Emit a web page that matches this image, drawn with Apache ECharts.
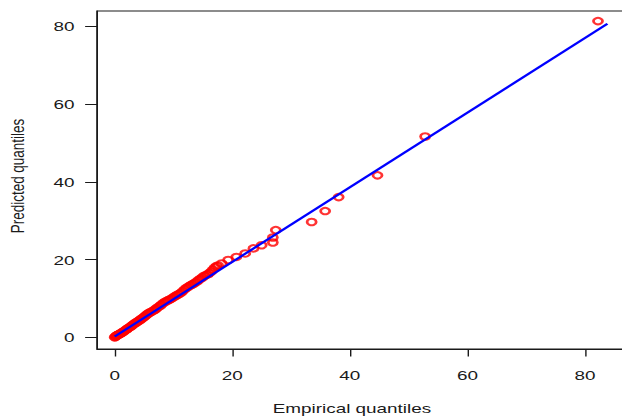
<!DOCTYPE html>
<html><head><meta charset="utf-8">
<script src="https://cdn.jsdelivr.net/npm/echarts@6/dist/echarts.min.js"></script>
<style>
html,body{margin:0;padding:0;width:622px;height:416px;overflow:hidden;background:#fff}
#wrap{width:622px;height:416px;overflow:hidden;position:relative}
#chart{width:460px;height:416px;transform:scaleX(1.4);transform-origin:0 0}
</style></head><body><div id="wrap"><div id="chart"></div></div>
<script>
// Empirical quantiles (x) and predicted quantiles (y)
const empirical = [0.0,0.1,0.2,0.3,0.4,0.5,0.6,0.8,0.9,1.0,1.2,1.3,1.5,1.6,1.8,2.0,2.1,2.3,2.5,2.7,2.9,3.0,3.2,3.4,3.6,3.8,4.0,4.2,4.4,4.6,4.8,5.0,5.2,5.4,5.6,5.8,6.0,6.2,6.5,6.8,7.0,7.2,7.5,7.8,8.0,8.3,8.6,8.9,9.2,9.5,9.8,10.1,10.4,10.7,11.0,11.3,11.6,11.9,12.2,12.5,12.8,13.1,13.4,13.7,14.0,14.3,14.6,14.9,15.2,15.5,15.8,16.1,16.4,16.7,17.0,17.3,17.6,
  18.2,19.3,20.7,22.2,23.6,25.0,26.9,26.9,27.4,33.5,35.8,38.1,44.7,52.8,82.2];
const predicted = [0.0,0.1,0.25,0.4,0.5,0.6,0.7,0.8,0.9,1.0,1.15,1.3,1.45,1.6,1.8,2.0,2.15,2.35,2.55,2.75,2.95,3.1,3.35,3.55,3.75,3.95,4.15,4.35,4.6,4.8,5.0,5.25,5.5,5.75,6.0,6.2,6.4,6.55,6.8,7.05,7.3,7.55,7.9,8.2,8.5,8.85,9.15,9.4,9.6,9.85,10.1,10.4,10.7,10.95,11.2,11.5,11.9,12.35,12.7,13.0,13.3,13.55,13.8,14.1,14.4,14.75,15.1,15.4,15.8,16.0,16.2,16.5,16.9,17.4,17.9,18.3,18.5,
  19.0,19.9,20.7,21.6,22.9,23.7,24.4,25.7,27.6,29.7,32.5,36.1,41.7,51.7,81.4];
// Reference line endpoints
const lineX = [0, 83.8];
const lineY = [0.2, 80.7];
const xTicks = [0, 20, 40, 60, 80];
const yTicks = [0, 20, 40, 60, 80];
const xTitle = 'Empirical quantiles';
const yTitle = 'Predicted quantiles';

const pts = empirical.map((x, i) => [x, predicted[i]]);
const linePts = lineX.map((x, i) => [x, lineY[i]]);
const font = 'Liberation Sans, Arial, Helvetica, sans-serif';
const axisCol = '#1a1a1a';

const chart = echarts.init(document.getElementById('chart'), null, {renderer: 'svg'});
chart.setOption({
  animation: false,
  backgroundColor: '#fff',
  grid: {left: 69.3, top: 11, width: 382.2, height: 338, show: true, borderColor: axisCol, borderWidth: 1, backgroundColor: 'transparent'},
  xAxis: {
    type: 'value', min: -3, max: 88,
    axisLine: {show: true, onZero: false, lineStyle: {color: axisCol, width: 1}},
    axisTick: {show: true, length: 7.5, customValues: xTicks, lineStyle: {color: axisCol, width: 1}},
    axisLabel: {customValues: xTicks, margin: 19, fontSize: 13.5, color: axisCol, fontFamily: font},
    splitLine: {show: false}
  },
  yAxis: {
    type: 'value', min: -3, max: 84,
    axisLine: {show: true, onZero: false, lineStyle: {color: axisCol, width: 1}},
    axisTick: {show: true, length: 8.5, customValues: yTicks, lineStyle: {color: axisCol, width: 1}},
    axisLabel: {customValues: yTicks, margin: 16, fontSize: 13.5, color: axisCol, fontFamily: font},
    splitLine: {show: false}
  },
  graphic: [
    {type: 'text', x: 251.4, y: 408, style: {text: xTitle, align: 'center', verticalAlign: 'middle', fontSize: 13.5, fill: axisCol, fontFamily: font}},
    {type: 'text', x: 12.1, y: 176, rotation: Math.PI / 2, style: {text: yTitle, align: 'center', verticalAlign: 'middle', fontSize: 13.5, fill: axisCol, fontFamily: font}}
  ],
  series: [
    {type: 'scatter', data: pts, symbol: 'circle', symbolSize: 6.5,
     itemStyle: {color: 'rgba(0,0,0,0)', borderColor: '#ff0000', borderWidth: 2}, z: 2},
    {type: 'line', data: linePts, symbol: 'none', lineStyle: {color: '#0000ff', width: 2}, z: 3}
  ]
});
</script></body></html>
